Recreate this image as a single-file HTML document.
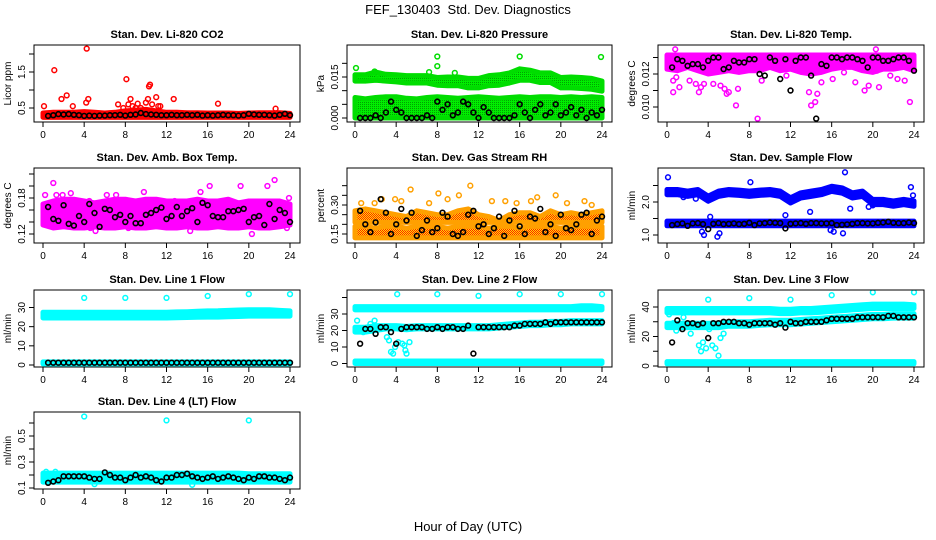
<!DOCTYPE html>
<html><head><meta charset="utf-8">
<style>
html,body{margin:0;padding:0;background:#fff;}
svg{display:block;font-family:"Liberation Sans",sans-serif;}
</style></head>
<body>
<svg id="chart" width="936" height="540" viewBox="0 0 936 540" xmlns="http://www.w3.org/2000/svg">
<defs>
<pattern id="rhpat" width="2" height="2" patternUnits="userSpaceOnUse"><rect width="2" height="2" fill="#ffdd00"/><rect width="1" height="1" fill="#ff2000"/><rect x="1" y="1" width="1" height="1" fill="#ff2000"/></pattern>
<pattern id="grpat" width="2" height="2" patternUnits="userSpaceOnUse"><rect width="2" height="2" fill="#00ee00"/><rect width="1" height="1" fill="#00a000"/></pattern>
</defs>
<text x="468" y="14" text-anchor="middle" font-size="13">FEF_130403&#160; Std. Dev. Diagnostics</text>
<text x="468" y="531" text-anchor="middle" font-size="13">Hour of Day (UTC)</text>
<g id="panels"></g>
</svg>
<script>
// ---- shared data ----
const HOURS = [0,1,2,3,4,5,6,7,8,9,10,11,12,13,14,15,16,17,18,19,20,21,22,23,24];
const HB = [0.5,1,1.5,2,2.5,3,3.5,4,4.5,5,5.5,6,6.5,7,7.5,8,8.5,9,9.5,10,10.5,11,11.5,12,12.5,13,13.5,14,14.5,15,15.5,16,16.5,17,17.5,18,18.5,19,19.5,20,20.5,21,21.5,22,22.5,23,23.5,24];
const X_TICKS = [0,4,8,12,16,20,24];

// CO2
const co2Lo = [0.24,0.24,0.24,0.24,0.24,0.24,0.24,0.24,0.24,0.24,0.24,0.24,0.24,0.24,0.24,0.24,0.24,0.24,0.24,0.24,0.24,0.24,0.24,0.24,0.24];
const co2Hi = [0.36,0.38,0.38,0.38,0.4,0.38,0.36,0.38,0.42,0.44,0.46,0.42,0.38,0.38,0.37,0.37,0.36,0.36,0.36,0.35,0.36,0.37,0.37,0.37,0.35];
const co2OutX = [0.1,1.1,1.8,2.3,2.9,4.25,4.2,4.4,7.3,8.1,8.5,10.4,10.3,10.2,11.0,12.7,17.0,22.6,9.2,11.4,8.3,8.7,9.5,10.6,11.2,7.8,10.0,9.0];
const co2OutY = [0.55,1.55,0.75,0.85,0.55,2.15,0.65,0.75,0.6,1.3,0.75,1.15,1.1,0.75,0.8,0.75,0.62,0.48,0.62,0.55,0.6,0.55,0.5,0.6,0.55,0.5,0.65,0.5];
const co2K = [0.28,0.3,0.33,0.32,0.33,0.31,0.3,0.28,0.29,0.28,0.29,0.29,0.3,0.3,0.31,0.29,0.31,0.32,0.36,0.33,0.32,0.31,0.3,0.3,0.31,0.3,0.3,0.31,0.3,0.31,0.29,0.3,0.29,0.3,0.31,0.3,0.3,0.29,0.3,0.34,0.32,0.31,0.31,0.3,0.29,0.31,0.34,0.3];
// Pressure
const presUpLo = [0.0135,0.0135,0.0138,0.0135,0.0132,0.0128,0.0128,0.0128,0.012,0.0118,0.0118,0.011,0.011,0.0118,0.012,0.0128,0.0138,0.0138,0.013,0.013,0.011,0.011,0.0108,0.0105,0.0098];
const presUpHi = [0.0158,0.0158,0.0168,0.016,0.0158,0.0155,0.0155,0.0155,0.0148,0.015,0.015,0.0145,0.0145,0.0155,0.0158,0.0165,0.018,0.0175,0.0165,0.0165,0.0148,0.015,0.0148,0.0145,0.0135];
const presLoLo = [0,0,0,0,0,0,0,0,0,0,0,0,0,0,0,0,0,0,0,0,0,0,0,0,0];
const presLoHi = [0.0075,0.007,0.0075,0.0078,0.0078,0.0072,0.007,0.0075,0.0078,0.0075,0.0072,0.0075,0.0078,0.0075,0.0072,0.0075,0.0078,0.0075,0.0078,0.0078,0.0075,0.0078,0.0075,0.0078,0.0075];
const presOutX = [0.1,8,8,16,23.9,1.9,2.2,9.7,0.3,17.5,7.2];
const presOutY = [0.0183,0.0225,0.019,0.0225,0.0223,0.017,0.016,0.0165,0.002,0.0165,0.0168];
const presK = [0,0,0,0.001,0,0.002,0.006,0.003,0.002,0,0,0,0,0.001,0,0.006,0.003,0.005,0.001,0.002,0.006,0.005,0.002,0,0.004,0.002,0,0,0,0,0.001,0.005,0.002,0,0.003,0.005,0.001,0.002,0.005,0.001,0.002,0.004,0.001,0.003,0,0.002,0.001,0.003];
// Li-820 temp
const tempLo = [0.0123,0.0122,0.0124,0.0122,0.0120,0.0121,0.0122,0.0121,0.0122,0.0122,0.0124,0.0122,0.0123,0.0121,0.0120,0.0121,0.0123,0.0124,0.0124,0.0122,0.0121,0.0123,0.0123,0.0124,0.0122];
const tempHi = [0.01315,0.01315,0.01315,0.01315,0.01315,0.01315,0.01315,0.01315,0.01315,0.01315,0.01315,0.01315,0.01315,0.01315,0.01315,0.01315,0.01315,0.01315,0.01315,0.01315,0.01315,0.01315,0.01315,0.01315,0.01315];
const tempOutX = [0.6,0.9,0.6,1.2,2.2,2.8,3.1,3.3,3.6,4.5,5.2,5.6,5.8,6.0,6.7,6.9,8.8,9.2,11.6,13.8,14.0,14.4,14.6,15.0,16.1,17.2,18.3,19.2,19.6,20.6,20.4,21.7,22.4,23.1,23.6,0.8,20.3];
const tempOutY = [0.0109,0.0118,0.0116,0.0112,0.0116,0.0114,0.0109,0.0112,0.0114,0.0114,0.0113,0.0111,0.0108,0.0109,0.0101,0.0111,0.0093,0.0116,0.0119,0.0109,0.0101,0.0103,0.0108,0.0115,0.0117,0.0121,0.0115,0.0110,0.0113,0.0112,0.0122,0.0119,0.0117,0.0116,0.0103,0.0135,0.0135];
const tempK = [0.0124,0.0129,0.0128,0.0125,0.0126,0.0126,0.0124,0.0128,0.013,0.013,0.0123,0.0124,0.0128,0.0127,0.0127,0.0129,0.0129,0.012,0.0119,0.013,0.0128,0.0117,0.0129,0.0110,0.0128,0.013,0.013,0.0119,0.0093,0.0126,0.0125,0.013,0.013,0.0129,0.013,0.013,0.0129,0.0128,0.0124,0.013,0.013,0.0128,0.0128,0.0129,0.013,0.013,0.0128,0.0122];
// Amb box temp
const ambLo = [0.135,0.13,0.132,0.13,0.13,0.132,0.13,0.13,0.132,0.13,0.13,0.132,0.13,0.13,0.132,0.13,0.13,0.132,0.13,0.13,0.132,0.13,0.13,0.132,0.135];
const ambHi = [0.17,0.175,0.178,0.178,0.175,0.172,0.175,0.178,0.178,0.175,0.178,0.178,0.175,0.175,0.175,0.178,0.175,0.175,0.178,0.172,0.175,0.175,0.175,0.175,0.17];
const ambOutX = [0.2,1,1.3,1.9,2.7,4.5,4.6,6.2,7.1,8.2,9.8,12.8,15.3,16.2,19.2,20.3,21.8,22.5,23.9,8.3,14.3,5.1,23.7];
const ambOutY = [0.185,0.205,0.185,0.185,0.188,0.175,0.13,0.185,0.185,0.25,0.19,0.175,0.19,0.2,0.2,0.12,0.2,0.21,0.18,0.13,0.125,0.125,0.13];
const ambK = [0.165,0.145,0.142,0.168,0.137,0.134,0.15,0.14,0.17,0.155,0.132,0.162,0.16,0.148,0.152,0.14,0.15,0.138,0.138,0.152,0.155,0.16,0.164,0.145,0.15,0.165,0.15,0.158,0.163,0.14,0.172,0.168,0.15,0.148,0.148,0.158,0.158,0.16,0.162,0.14,0.148,0.15,0.135,0.17,0.145,0.16,0.155,0.14];
// Gas stream RH
const rhLo = [0.13,0.13,0.13,0.13,0.13,0.13,0.13,0.13,0.13,0.13,0.13,0.13,0.13,0.13,0.13,0.13,0.13,0.13,0.13,0.13,0.13,0.13,0.13,0.13,0.13];
const rhHi = [0.19,0.19,0.18,0.19,0.19,0.18,0.19,0.19,0.19,0.18,0.19,0.19,0.19,0.18,0.19,0.19,0.18,0.19,0.19,0.19,0.18,0.19,0.19,0.19,0.19];
const rhUpLo = [0.21,0.21,0.21,0.21,0.21,0.21,0.21,0.21,0.21,0.21,0.21,0.21,0.21,0.21,0.21,0.21,0.21,0.21,0.21,0.21,0.21,0.21,0.21,0.21,0.21];
const rhUpHi = [0.27,0.28,0.27,0.26,0.25,0.24,0.27,0.26,0.25,0.25,0.27,0.28,0.25,0.24,0.22,0.25,0.26,0.26,0.24,0.27,0.25,0.26,0.25,0.26,0.27];
const rhOutX = [0.6,1.9,2.6,3.9,4.5,5.4,8.1,9,10.1,11.2,13.3,14.6,15.7,17.1,17.7,19.5,20.6,22.3,23.0,7.2];
const rhOutY = [0.31,0.31,0.33,0.33,0.32,0.38,0.36,0.33,0.35,0.40,0.32,0.32,0.31,0.32,0.34,0.35,0.31,0.32,0.30,0.31];
const rhK = [0.27,0.2,0.16,0.21,0.33,0.26,0.15,0.2,0.28,0.22,0.26,0.14,0.17,0.22,0.16,0.18,0.26,0.24,0.15,0.14,0.16,0.25,0.27,0.19,0.2,0.15,0.18,0.24,0.14,0.22,0.27,0.19,0.15,0.24,0.23,0.28,0.16,0.2,0.14,0.25,0.18,0.17,0.2,0.25,0.26,0.15,0.22,0.24];
// Sample flow
const sfUpLo = [2.22,2.22,2.17,2.22,2.02,2.17,2.22,2.2,2.17,2.2,2.22,2.17,1.97,2.12,2.17,2.22,2.32,2.27,2.12,2.17,1.92,1.92,1.87,1.92,1.87];
const sfUpHi = [2.38,2.38,2.33,2.38,2.18,2.33,2.38,2.36,2.33,2.36,2.38,2.33,2.13,2.28,2.33,2.38,2.48,2.43,2.28,2.33,2.08,2.08,2.03,2.08,2.03];
const sfLoLo = [1.28,1.28,1.28,1.28,1.28,1.28,1.28,1.28,1.28,1.28,1.28,1.28,1.28,1.28,1.28,1.28,1.28,1.28,1.28,1.28,1.28,1.28,1.28,1.28,1.28];
const sfLoHi = [1.42,1.42,1.42,1.42,1.42,1.42,1.42,1.42,1.42,1.42,1.42,1.42,1.42,1.42,1.42,1.42,1.42,1.42,1.42,1.42,1.42,1.42,1.42,1.42,1.42];
const sfOutX = [0.1,8.1,17.3,1.6,2.8,3.4,3.6,4.9,5.1,13.9,15.9,16.2,17.1,17.8,23.7,23.9,19.6,20,4.2,11.5];
const sfOutY = [2.75,2.6,2.9,2.15,2.1,1.1,1.0,0.95,1.05,1.7,1.15,1.1,1.05,1.8,2.45,2.2,1.85,1.9,1.55,1.6];
const sfK = [1.3,1.33,1.35,1.28,1.35,1.36,1.33,1.18,1.34,1.36,1.33,1.34,1.35,1.33,1.34,1.37,1.3,1.35,1.36,1.38,1.37,1.36,1.2,1.34,1.35,1.36,1.34,1.36,1.36,1.35,1.35,1.36,1.3,1.31,1.32,1.34,1.36,1.36,1.35,1.35,1.37,1.38,1.4,1.37,1.36,1.36,1.38,1.36];
// Line 1
const l1UpLo = [24.5,24.5,24.5,24.5,24.5,24.5,24.5,24.5,24.5,24.5,24.5,24.5,24.5,24.7,24.8,24.9,25,25,25.2,25.3,25.5,25.5,25.5,25.5,25.5];
const l1UpHi = [27.5,27.5,27.5,27.5,27.5,27.5,27.5,27.5,27.5,27.5,27.5,27.5,27.5,27.7,27.8,28,28.2,28.3,28.5,28.7,28.8,28.8,28.8,28.5,28.2];
const l1LoLo = [0.6,0.6,0.6,0.6,0.6,0.6,0.6,0.6,0.6,0.6,0.6,0.6,0.6,0.6,0.6,0.6,0.6,0.6,0.6,0.6,0.6,0.6,0.6,0.6,0.6];
const l1LoHi = [1.6,1.6,1.6,1.6,1.6,1.6,1.6,1.6,1.6,1.6,1.6,1.6,1.6,1.6,1.6,1.6,1.6,1.6,1.6,1.6,1.6,1.6,1.6,1.6,1.6];
const l1OutX = [4,8,12,16,20,24];
const l1OutY = [35,35,35,36,37,37];
const l1K = [1.2,1.2,1.2,1.2,1.2,1.2,1.2,1.2,1.2,1.2,1.2,1.2,1.2,1.2,1.2,1.2,1.2,1.2,1.2,1.2,1.2,1.2,1.2,1.2,1.2,1.2,1.2,1.2,1.2,1.2,1.2,1.2,1.2,1.2,1.2,1.2,1.2,1.2,1.2,1.2,1.2,1.2,1.2,1.2,1.2,1.2,1.2,1.2];
// Line 2
const l2UpLo = [32.5,32.5,32.5,32.5,32.5,32.5,32.5,32.5,32.5,32.5,32.5,32.5,32.5,32.5,32.5,32.5,32.5,32.5,32.5,32.5,32.5,32.5,32.5,32.5,32.5];
const l2UpHi = [34.5,34.5,34.5,34.5,34.5,34.5,34.5,34.5,34.5,34.5,34.5,34.5,34.5,34.5,34.5,34.5,34.5,34.5,34.5,34.5,34.5,34.5,35,35,34.5];
const l2MidLo = [19,19,20,21,21,20.5,21,21,21,21,21,21,21,21,21.5,22,22.5,23,23,23.5,23.5,24,24,24,24];
const l2MidHi = [22,22,23,23,23,22.5,23,23,23,23,23,23,23,23,23.5,24,24.5,25,25,25.5,25.5,26,26,26,26];
const l2LoLo = [0,0,0,0,0,0,0,0,0,0,0,0,0,0,0,0,0,0,0,0,0,0,0,0,0];
const l2LoHi = [1.5,1.5,1.5,1.5,1.5,1.5,1.5,1.5,1.5,1.5,1.5,1.5,1.5,1.5,1.5,1.5,1.5,1.5,1.5,1.5,1.5,1.5,1.5,1.5,1.5];
const l2OutX = [0.2,0.5,0.8,1.5,1.9,2.9,3.1,3.3,3.5,3.7,3.9,4.2,4.6,4.9,5.0,5.3,4.1,8,12,16,20,24,4.8];
const l2OutY = [26,20,19,24,26,22,16,14,7,6,10,13,12,8,6,13,42,42,41,42,42,42,11];
const l2K = [12,21,21,18,22,22,19,12,21,22,22,22,22,21,21,22,21,22,22,21,21,23,6,22,22,22,22,22,22,22,23,23,24,24,24,24,25,24,25,25,25,25,25,25,25,25,25,25];
// Line 3
const l3UpLo = [36,36,36,36,36,36,36,36,36,36,36,35.5,35.5,36,36,36.5,37,37.5,38,38.5,39,39,39,39,39];
const l3UpHi = [39,39,39,39,39,39,39,39,39,39,39,38.5,38.5,39,39,39.5,40,40.5,41,41.5,42,42,42,42,41.5];
const l3MidLo = [26,26,26,26,26,26,27,27,27,27.5,28,28,28,28.5,29,29.5,30,30.5,31,31.5,32,32,32.5,32.5,32.5];
const l3MidHi = [29,29,29,29,29,29,30,30,30,30.5,31,31,31,31.5,32,32.5,33,33.5,34,34.5,35,35,35.5,35.5,35.5];
const l3LoLo = [1.5,1.5,1.5,1.5,1.5,1.5,1.5,1.5,1.5,1.5,1.5,1.5,1.5,1.5,1.5,1.5,1.5,1.5,1.5,1.5,1.5,1.5,1.5,1.5,1.5];
const l3LoHi = [3,3,3,3,3,3,3,3,3,3,3,3,3,3,3,3,3,3,3,3,3,3,3,3,3];
const l3OutX = [0.2,0.6,0.9,1.6,2.3,3.1,3.3,3.5,3.8,4.1,4.4,4.7,5.0,5.2,5.5,4,8,12,16,20,24];
const l3OutY = [35,29,24,33,22,14,10,16,12,25,14,12,7,19,22,45,46,45,48,50,50];
const l3K = [16,31,25,29,29,28,29,19,29,29,30,30,30,29,29,28,29,29,29,29,28,29,26,30,29,29,30,30,30,30,31,32,32,32,32,32,33,33,33,33,33,33,34,34,33,33,33,33];
// Line 4
const l4Lo = [0.145,0.145,0.145,0.145,0.145,0.145,0.145,0.145,0.145,0.145,0.145,0.145,0.145,0.145,0.145,0.145,0.145,0.145,0.145,0.145,0.145,0.145,0.145,0.145,0.145];
const l4Hi = [0.215,0.215,0.215,0.215,0.215,0.215,0.215,0.215,0.215,0.215,0.215,0.215,0.215,0.215,0.215,0.215,0.215,0.215,0.215,0.215,0.21,0.21,0.21,0.21,0.21];
const l4OutX = [4,12,20,14.5,5,0.3,1.2];
const l4OutY = [0.65,0.62,0.62,0.125,0.13,0.225,0.225];
const l4K = [0.14,0.15,0.16,0.19,0.19,0.19,0.19,0.19,0.18,0.17,0.17,0.22,0.2,0.18,0.18,0.16,0.18,0.2,0.18,0.19,0.18,0.16,0.15,0.18,0.18,0.2,0.2,0.21,0.19,0.18,0.17,0.18,0.19,0.17,0.18,0.19,0.18,0.17,0.16,0.18,0.17,0.19,0.19,0.18,0.18,0.17,0.16,0.18];

// ---- layout ----
const COLS = [{bl:34,br:300,x0:43,x24:290},{bl:347,br:612,x0:355,x24:602},{bl:658,br:924,x0:667,x24:914}];
const ROWS = [{bt:45,bb:122},{bt:168,bb:243},{bt:290,bb:367},{bt:412,bb:489}];

const panels = [
 {name:'co2',title:'Stan. Dev. Li-820 CO2',yl:'Licor ppm',c:0,r:0,ya:[0.5,108,1.5,72],ticks:[0.5,1,1.5,2],labels:{'0.5':'0.5','1.5':'1.5'},color:'#ff0000',fill:'#ff0000',
  bands:[[co2Lo,co2Hi]],outX:co2OutX,outY:co2OutY,k:co2K},
 {name:'pressure',title:'Stan. Dev. Li-820 Pressure',yl:'kPa',c:1,r:0,ya:[0,118,0.015,77],ticks:[0,0.005,0.01,0.015,0.02],labels:{'0':'0.000','0.015':'0.015'},color:'#00dd00',fill:'url(#grpat)',
  bands:[[presUpLo,presUpHi],[presLoLo,presLoHi]],outX:presOutX,outY:presOutY,k:presK},
 {name:'li820-temp',title:'Stan. Dev. Li-820 Temp.',yl:'degrees C',c:2,r:0,ya:[0.010,107,0.012,74],ticks:[0.010,0.011,0.012,0.013],labels:{'0.01':'0.010','0.012':'0.012'},color:'#ff00ff',fill:'#ff00ff',
  bands:[[tempLo,tempHi]],outX:tempOutX,outY:tempOutY,k:tempK},
 {name:'amb-box-temp',title:'Stan. Dev. Amb. Box Temp.',yl:'degrees C',c:0,r:1,ya:[0.12,234,0.18,198],ticks:[0.12,0.14,0.16,0.18,0.2,0.22,0.24],labels:{'0.12':'0.12','0.18':'0.18','0.24':'0.24'},color:'#ff00ff',fill:'#ff00ff',
  bands:[[ambLo,ambHi]],outX:ambOutX,outY:ambOutY,k:ambK},
 {name:'gas-stream-rh',title:'Stan. Dev. Gas Stream RH',yl:'percent',c:1,r:1,ya:[0.15,234,0.30,205],ticks:[0.15,0.2,0.25,0.3,0.35,0.4],labels:{'0.15':'0.15','0.3':'0.30'},color:'#ffa000',fill:'url(#rhpat)',
  bands:[[rhLo,rhHi],[rhUpLo,rhUpHi]],outX:rhOutX,outY:rhOutY,k:rhK},
 {name:'sample-flow',title:'Stan. Dev. Sample Flow',yl:'ml/min',c:2,r:1,ya:[1.0,235,2.0,202],ticks:[1,1.5,2,2.5],labels:{'1':'1.0','2':'2.0'},color:'#0000ff',fill:'#0000ff',
  bands:[[sfUpLo,sfUpHi],[sfLoLo,sfLoHi]],outX:sfOutX,outY:sfOutY,k:sfK},
 {name:'line1-flow',title:'Stan. Dev. Line 1 Flow',yl:'ml/min',c:0,r:2,ya:[0,365,30,307.5],ticks:[0,10,20,30],labels:{'0':'0','10':'10','20':'20','30':'30'},color:'#00ffff',fill:'#00ffff',
  bands:[[l1UpLo,l1UpHi],[l1LoLo,l1LoHi]],outX:l1OutX,outY:l1OutY,k:l1K},
 {name:'line2-flow',title:'Stan. Dev. Line 2 Flow',yl:'ml/min',c:1,r:2,ya:[0,363.5,30,314],ticks:[0,10,20,30,40],labels:{'0':'0','10':'10','20':'20','30':'30'},color:'#00ffff',fill:'#00ffff',
  bands:[[l2UpLo,l2UpHi],[l2MidLo,l2MidHi],[l2LoLo,l2LoHi]],outX:l2OutX,outY:l2OutY,k:l2K},
 {name:'line3-flow',title:'Stan. Dev. Line 3 Flow',yl:'ml/min',c:2,r:2,ya:[0,366,40,307],ticks:[0,10,20,30,40],labels:{'0':'0','20':'20','40':'40'},color:'#00ffff',fill:'#00ffff',
  bands:[[l3UpLo,l3UpHi],[l3MidLo,l3MidHi],[l3LoLo,l3LoHi]],outX:l3OutX,outY:l3OutY,k:l3K},
 {name:'line4-flow',title:'Stan. Dev. Line 4 (LT) Flow',yl:'ml/min',c:0,r:3,ya:[0.1,488,0.3,462],ticks:[0.1,0.2,0.3,0.4,0.5,0.6],labels:{'0.1':'0.1','0.3':'0.3','0.5':'0.5'},color:'#00ffff',fill:'#00ffff',
  bands:[[l4Lo,l4Hi]],outX:l4OutX,outY:l4OutY,k:l4K}
];

const NS='http://www.w3.org/2000/svg';
const root=document.getElementById('panels');
function mk(tag,attrs,parent){const e=document.createElementNS(NS,tag);for(const k in attrs)e.setAttribute(k,attrs[k]);parent.appendChild(e);return e;}

panels.forEach(p=>{
  const C=COLS[p.c],R=ROWS[p.r];
  const xs=h=>C.x0+(C.x24-C.x0)*h/24;
  const ys=v=>p.ya[1]+(p.ya[3]-p.ya[1])*(v-p.ya[0])/(p.ya[2]-p.ya[0]);
  const g=mk('g',{},root);
  
  
  const clipId='clip-'+p.name;
  const cp=mk('clipPath',{id:clipId},g);
  mk('rect',{x:C.bl,y:R.bt,width:C.br-C.bl,height:R.bb-R.bt},cp);
  const plot=mk('g',{'clip-path':'url(#'+clipId+')'},g);
  p.bands.forEach((b,bi)=>{
    let pts=[];
    HOURS.forEach((h,i)=>pts.push(xs(h).toFixed(1)+','+ys(b[1][i]).toFixed(1)));
    for(let i=HOURS.length-1;i>=0;i--)pts.push(xs(HOURS[i]).toFixed(1)+','+ys(b[0][i]).toFixed(1));
    const poly=mk('polygon',{points:pts.join(' '),fill:p.fill,stroke:p.color,'stroke-width':5,'stroke-linejoin':'round'},plot);
    
    
  });
  p.outX.forEach((h,i)=>{
    const c=mk('circle',{cx:xs(h).toFixed(1),cy:ys(p.outY[i]).toFixed(1),r:2.4,fill:'none',stroke:p.color,'stroke-width':1.5},plot);
    
    
  });
  HB.forEach((h,i)=>{
    const c=mk('circle',{cx:xs(h).toFixed(1),cy:ys(p.k[i]).toFixed(1),r:2.4,fill:'none',stroke:'#000','stroke-width':1.6},plot);
    
    
  });
  const box=mk('rect',{x:C.bl,y:R.bt,width:C.br-C.bl,height:R.bb-R.bt,fill:'none',stroke:'#000','stroke-width':1},g);
  
  
  const t=mk('text',{x:(C.bl+C.br)/2,y:R.bt-7,'text-anchor':'middle','font-size':11,'font-weight':'bold'},g);
  t.textContent=p.title;
  
  
  const xa=mk('g',{},g);
  
  
  mk('line',{x1:xs(0),x2:xs(24),y1:R.bb,y2:R.bb,stroke:'#000'},xa);
  X_TICKS.forEach(v=>{
    mk('line',{x1:xs(v),x2:xs(v),y1:R.bb,y2:R.bb+5,stroke:'#000'},xa);
    const tl=mk('text',{x:xs(v),y:R.bb+16,'text-anchor':'middle','font-size':10},xa);
    tl.textContent=String(v);
    
    
  });
  const ya=mk('g',{},g);
  
  
  p.ticks.forEach(v=>{
    const y=ys(v);
    if(y<R.bt-1||y>R.bb+3) return;
    mk('line',{x1:C.bl-5,x2:C.bl,y1:y,y2:y,stroke:'#000'},ya);
    const key=String(+v.toFixed(4));
    if(p.labels[key]!==undefined){
      const tl=mk('text',{x:C.bl-9,y:y,'text-anchor':'middle','font-size':10,transform:'rotate(-90 '+(C.bl-9)+' '+y+')'},ya);
      tl.textContent=p.labels[key];
      
      
    }
  });
  const ty=(R.bt+R.bb)/2;
  const yt=mk('text',{x:C.bl-23,y:ty,'text-anchor':'middle','font-size':10,transform:'rotate(-90 '+(C.bl-23)+' '+ty+')'},g);
  yt.textContent=p.yl;
  
  
});
</script>
</body></html>
